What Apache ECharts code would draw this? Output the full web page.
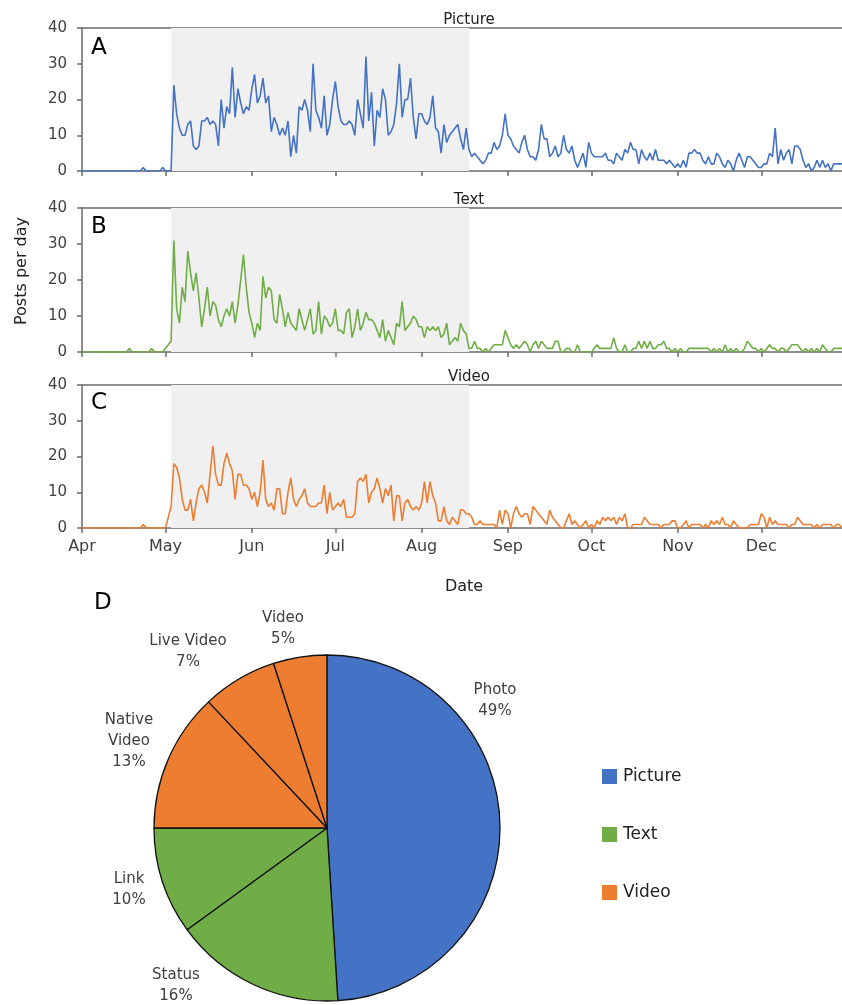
<!DOCTYPE html>
<html>
<head>
<meta charset="utf-8">
<script src="https://cdn.jsdelivr.net/npm/echarts@6/dist/echarts.min.js"></script>
<style>
  html, body { margin: 0; padding: 0; background: #fff; }
  #chart { width: 842px; height: 1005px; }
</style>
</head>
<body>
<div id="chart"></div>
<script>
// Calendar: day 0 = 1 April, last plotted day = 30 December
const monthLabels = ['Apr', 'May', 'Jun', 'Jul', 'Aug', 'Sep', 'Oct', 'Nov', 'Dec'];
const monthStartDays = [0, 30, 61, 91, 122, 153, 183, 214, 244];
const lastDay = 273;
// Highlighted campaign period (3 May - 18 August)
const campaignStart = 32;
const campaignEnd = 139;
const yTickStep = 10;
const yMax = 40;

// Posts per day, one value per day from 1 April
const picturePosts = [
  0,0,0,0,0,0,0,0,0,0, 0,0,0,0,0,0,0,0,0,0, 0,0,1,0,0,0,0,0,0,1, 0,0,0,
  24,16,12,10,10,13,14,7,6,7,
  14,14,15,13,14,13,7,20,12,18,
  16,29,15,23,19,16,18,17,23,27,
  19,21,26,19,21,11,15,13,10,12,
  10,14,4,10,5,18,17,20,17,11,
  30,17,15,12,21,10,13,20,25,18,
  14,13,13,14,13,10,20,16,12,32,
  14,22,7,17,15,23,20,10,11,13,
  19,30,15,20,20,26,15,9,16,16,
  14,13,15,21,12,11,5,13,8,10,
  11,12,13,9,6,12,
  6,4,5,4,3,2,3,5,5,8,
  6,7,10,16,10,9,7,6,5,8,
  10,6,4,4,3,6,13,9,9,4,
  5,7,4,5,10,6,5,7,3,1,
  3,5,1,8,5,4,4,4,4,5,
  3,3,2,5,4,3,6,5,8,6,
  6,2,6,4,3,5,3,6,3,3,
  3,2,3,2,1,2,1,3,1,5,
  5,6,5,5,3,2,4,2,2,5,
  4,2,1,3,2,0,3,5,3,1,
  4,4,3,2,1,1,2,2,5,4,
  12,2,6,3,5,6,2,7,7,6,
  3,1,2,0,1,3,1,3,1,2,
  0,2,2,2,2
];

const textPosts = [
  0,0,0,0,0,0,0,0,0,0, 0,0,0,0,0,0,0,1,0,0, 0,0,0,0,0,1,0,0,0,0, 1,2,3,31,
  12,8,18,14,28,22,17,22,15,7,
  12,18,10,14,13,9,7,10,
  12,10,14,8,13,20,27,18,11,
  8,4,8,6,21,15,18,17,9,
  8,16,12,7,11,8,7,6,12,
  9,6,9,12,5,6,14,5,10,
  9,7,8,12,6,6,5,11,12,
  4,7,12,6,8,11,9,9,8,
  6,4,9,3,6,4,2,8,7,
  14,6,7,8,10,9,7,7,4,
  7,6,7,6,7,4,5,8,2,
  3,4,3,8,6,
  5,
  1,1,3,1,1,0,1,0,1,2,
  2,2,2,6,4,2,1,2,1,2,
  3,2,0,2,3,1,3,2,1,1,
  1,3,3,0,0,1,1,0,0,2,
  0,0,0,0,0,1,2,1,1,1,
  1,1,4,1,0,0,2,0,0,1,
  1,3,1,3,1,3,1,1,2,2,
  3,1,1,0,1,0,1,0,0,1,
  1,1,1,1,1,1,1,0,1,0,
  1,0,2,0,1,0,1,0,0,1,
  3,2,1,1,0,1,0,1,2,1,
  1,0,1,1,0,1,2,2,2,1,
  0,1,0,1,0,1,0,2,1,0,
  0,1,1,1,1
];

const videoPosts = [
  0,0,0,0,0,0,0,0,0,0, 0,0,0,0,0,0,0,0,0,0, 0,0,1,0,0,0,0,0,0,0, 0,3,6,
  18,17,14,8,5,5,8,2,7,
  11,12,10,7,15,23,15,12,12,18,
  21,18,16,8,15,15,12,12,11,8,
  10,6,10,19,8,6,7,5,11,11,
  4,4,10,14,8,6,8,9,11,7,
  6,6,6,7,7,12,4,10,5,6,
  7,6,8,3,3,3,4,13,14,13,
  15,7,10,11,14,11,7,11,9,12,
  2,9,9,2,7,8,6,5,6,5,
  7,13,7,13,9,7,2,2,6,2,
  1,3,2,1,5,5,4,
  4,3,1,1,2,1,1,1,1,1,
  0,5,1,5,4,0,4,6,4,3,
  4,4,1,6,5,4,3,2,1,5,
  3,2,1,0,0,2,4,1,2,1,
  0,1,2,0,1,0,2,1,3,2,
  3,2,3,1,3,2,4,0,0,1,
  1,1,1,3,2,1,1,1,1,0,
  1,1,1,2,2,0,0,1,2,0,
  1,1,1,1,0,1,0,2,1,2,
  1,3,1,1,0,2,1,0,0,0,
  0,1,1,1,1,4,3,0,3,1,
  2,1,1,1,1,0,1,1,3,2,
  1,1,1,1,0,1,0,1,1,1,
  1,0,1,1,0
];

// Share of all posts by post type
const pieNames = ['Photo', 'Status', 'Link', 'Native Video', 'Live Video', 'Video'];
const pieLabelText = ['Photo', 'Status', 'Link', 'Native\nVideo', 'Live Video', 'Video'];
const pieValues = [49, 16, 10, 13, 7, 5];
const pieGroups = ['Picture', 'Text', 'Text', 'Video', 'Video', 'Video'];

const groupNames = ['Picture', 'Text', 'Video'];
const groupColors = { Picture: '#4472C4', Text: '#70AD47', Video: '#ED7D31' };
const panelLetters = ['A', 'B', 'C'];

// Layout
const FONT = 'DejaVu Sans';
const AXIS_COLOR = '#6a6a6a';
const grids = [
  { left: 82, top: 28, width: 760, height: 143 },
  { left: 82, top: 208, width: 760, height: 144 },
  { left: 82, top: 385, width: 760, height: 143 }
];
const titleY = [8, 188, 365];
const letterY = [48, 227, 403];
const pieLabelPos = [[495, 701], [176, 986], [129, 890], [129, 741], [188, 652], [283, 629]];

const seriesValues = [picturePosts, textPosts, videoPosts];

const xAxes = [];
const yAxes = [];
const series = [];

grids.forEach((g, i) => {
  xAxes.push({
    type: 'value', gridIndex: i, min: 0, max: lastDay,
    axisLine: { show: true, onZero: false, lineStyle: { color: AXIS_COLOR, width: 1.5 } },
    axisTick: { show: true, customValues: monthStartDays, length: 5, lineStyle: { color: AXIS_COLOR, width: 1.5 } },
    axisLabel: {
      show: i === 2, customValues: monthStartDays, margin: 11,
      formatter: v => monthLabels[monthStartDays.indexOf(v)],
      fontFamily: FONT, fontSize: 16, color: '#404040'
    },
    splitLine: { show: false }
  });
  // top frame line of each panel
  xAxes.push({
    type: 'value', gridIndex: i, position: 'top', min: 0, max: lastDay,
    axisLine: { show: true, onZero: false, lineStyle: { color: AXIS_COLOR, width: 1.5 } },
    axisTick: { show: false }, axisLabel: { show: false }, splitLine: { show: false }
  });
  yAxes.push({
    type: 'value', gridIndex: i, min: 0, max: yMax, interval: yTickStep,
    axisLine: { show: true, onZero: false, lineStyle: { color: AXIS_COLOR, width: 1.5 } },
    axisTick: { show: true, length: 5, lineStyle: { color: AXIS_COLOR, width: 1.5 } },
    axisLabel: { margin: 15, fontFamily: FONT, fontSize: 15, color: '#404040' },
    splitLine: { show: false }
  });
  const name = groupNames[i];
  series.push({
    type: 'line', name: name, xAxisIndex: i * 2, yAxisIndex: i,
    data: seriesValues[i].map((v, d) => [d, v]),
    showSymbol: false, symbol: 'none',
    itemStyle: { color: groupColors[name] },
    lineStyle: { color: groupColors[name], width: 1.6 },
    markArea: {
      silent: true,
      itemStyle: { color: '#f0f0f0' },
      data: [[{ xAxis: campaignStart }, { xAxis: campaignEnd }]]
    }
  });
});

series.push({
  type: 'pie', name: 'Post type',
  center: [327, 828], radius: 173,
  startAngle: 90, clockwise: true,
  avoidLabelOverlap: false,
  data: pieNames.map((n, i) => ({ name: n, value: pieValues[i], itemStyle: { color: groupColors[pieGroups[i]] } })),
  itemStyle: { borderColor: '#111', borderWidth: 1.3 },
  label: {
    show: true, position: 'outside',
    formatter: p => pieLabelText[p.dataIndex] + '\n' + p.value + '%',
    fontFamily: FONT, fontSize: 15, lineHeight: 21, color: '#404040', align: 'center'
  },
  labelLine: { show: false },
  labelLayout: p => ({
    x: pieLabelPos[p.dataIndex][0], y: pieLabelPos[p.dataIndex][1],
    align: 'center', verticalAlign: 'middle'
  }),
  emphasis: { disabled: true }
});

const graphics = [];
panelLetters.forEach((L, i) => {
  graphics.push({ type: 'text', x: 91, y: letterY[i], style: { text: L, font: '23px "DejaVu Sans"', fill: '#000', verticalAlign: 'middle' } });
});
graphics.push({ type: 'text', x: 94, y: 603, style: { text: 'D', font: '23px "DejaVu Sans"', fill: '#000', verticalAlign: 'middle' } });
graphics.push({ type: 'text', x: 22, y: 271, rotation: Math.PI / 2, style: { text: 'Posts per day', font: '16px "DejaVu Sans"', fill: '#222', align: 'center', verticalAlign: 'middle' } });
graphics.push({ type: 'text', x: 464, y: 587, style: { text: 'Date', font: '16px "DejaVu Sans"', fill: '#222', align: 'center', verticalAlign: 'middle' } });

const chart = echarts.init(document.getElementById('chart'), null, { renderer: 'canvas' });
chart.setOption({
  animation: false,
  backgroundColor: '#fff',
  title: groupNames.map((n, i) => ({
    text: n, left: 464, top: titleY[i], textAlign: 'center',
    textStyle: { fontFamily: FONT, fontSize: 15, fontWeight: 'normal', color: '#222' }
  })),
  grid: grids,
  xAxis: xAxes,
  yAxis: yAxes,
  legend: {
    data: groupNames, orient: 'vertical', left: 597, top: 763,
    icon: 'rect', itemWidth: 15, itemHeight: 15, itemGap: 41,
    selectedMode: false,
    textStyle: { fontFamily: FONT, fontSize: 17, color: '#222', padding: [0, 0, 0, 1] }
  },
  tooltip: { show: false },
  graphic: graphics,
  series: series
});
</script>
</body>
</html>
